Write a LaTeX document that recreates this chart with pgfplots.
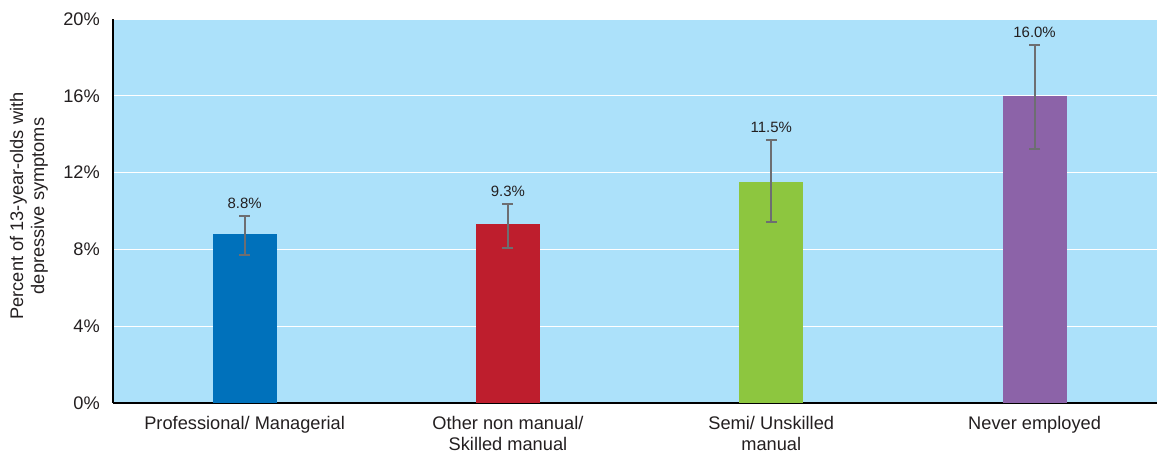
\documentclass[border=0pt]{standalone}
\usepackage{pgfplots}
\pgfplotsset{compat=1.18}
\usepackage{fontspec}
\setmainfont{Liberation Sans}
\definecolor{bg}{HTML}{ACE1FA}
\definecolor{cblue}{HTML}{0071BB}
\definecolor{cred}{HTML}{BE1E2D}
\definecolor{cgreen}{HTML}{8DC63F}
\definecolor{cpurple}{HTML}{8C63A8}
\definecolor{egrey}{HTML}{6D6E71}
\definecolor{txt}{HTML}{231F20}
\pgfplotsset{
  errstyle/.style={
    error bars/.cd, y dir=both, y explicit,
    error bar style={line width=2bp, color=egrey},
    error mark options={rotate=90, mark size=5.5bp, line width=2bp, color=egrey}
  }
}
\begin{document}
\begin{tikzpicture}
\begin{axis}[name=ax,
  scale only axis, width=1044bp, height=384bp,
  xmin=-0.5, xmax=3.465, ymin=0, ymax=20,
  axis background/.style={fill=bg},
  axis x line*=bottom, axis y line*=left,
  axis line style={line width=1.8bp, black, -},
  ytick={0,4,8,12,16,20},
  yticklabel={\pgfmathprintnumber{\tick}\%},
  /pgf/number format/assume math mode=true,
  ymajorgrids, grid style={white, line width=0.8bp},
  major tick length=0pt,
  xtick={0,1,2,3},
  xticklabels={Professional/ Managerial, {Other non manual/\\Skilled manual}, {Semi/ Unskilled\\manual}, Never employed},
  xticklabel style={align=center, inner sep=0pt, anchor=north, yshift=-13bp, font=\fontsize{18.3}{21.5}\selectfont, text=txt},
  yticklabel style={inner sep=0pt, anchor=east, xshift=-13bp, font=\fontsize{18.3}{21}\selectfont, text=txt},
  ylabel={Percent of 13-year-olds with\\depressive symptoms},
  every axis y label/.style={at={(rel axis cs:0,0.5)}, rotate=90, anchor=south, inner sep=0pt, xshift=5bp, yshift=65bp, align=center, font=\fontsize{18.3}{21}\selectfont, text=txt},
]
\addplot[ybar, bar width=64bp, bar shift=0pt, fill=cblue, draw=none, errstyle] coordinates {(0,8.8) += (0,0.95) -= (0,1.08)};
\addplot[ybar, bar width=64bp, bar shift=0pt, fill=cred, draw=none, errstyle] coordinates {(1,9.3) += (0,1.08) -= (0,1.21)};
\addplot[ybar, bar width=64bp, bar shift=0pt, fill=cgreen, draw=none, errstyle] coordinates {(2,11.5) += (0,2.2) -= (0,2.06)};
\addplot[ybar, bar width=64bp, bar shift=0pt, fill=cpurple, draw=none, errstyle] coordinates {(3,16.0) += (0,2.65) -= (0,2.77)};
\addplot[draw=none, mark=none, nodes near coords, point meta=explicit symbolic,
  nodes near coords style={anchor=center, yshift=12.5bp, inner sep=0pt, font=\fontsize{15}{17}\selectfont, text=txt}]
  table[meta=lab] {
x y lab
0 9.75 8.8\%
1 10.38 9.3\%
2 13.70 11.5\%
3 18.65 16.0\%
};
\end{axis}
\path (ax.south west) ++(-113bp,-50bp) coordinate (bl);
\path (ax.north east) ++(0bp,19bp) coordinate (tr);
\pgfresetboundingbox
\path[use as bounding box] (bl) rectangle (tr);
\end{tikzpicture}
\end{document}
